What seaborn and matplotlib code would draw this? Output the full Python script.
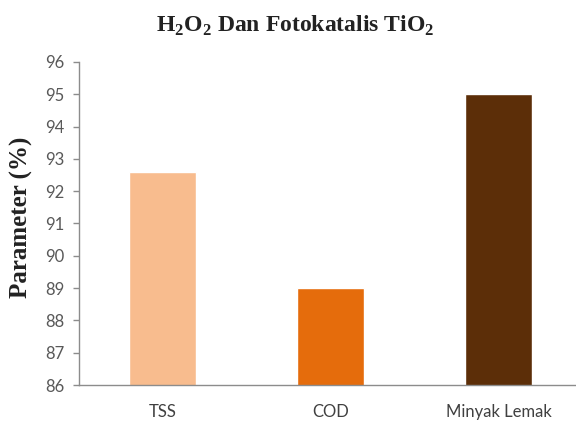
import matplotlib
matplotlib.use("Agg")
import matplotlib.pyplot as plt
import seaborn as sns
import pandas as pd

categories = ["TSS", "COD", "Minyak Lemak"]
values = [92.6, 89.0, 95.0]
bar_colors = ["#F8BC8E", "#E56C0C", "#5C2E08"]
y_ticks = [86, 87, 88, 89, 90, 91, 92, 93, 94, 95, 96]

sns.set_theme(style="white")
plt.rcParams["mathtext.fontset"] = "custom"
plt.rcParams["mathtext.rm"] = "Liberation Serif:bold"
plt.rcParams["mathtext.bf"] = "Liberation Serif:bold"

df = pd.DataFrame({"kategori": categories, "nilai": values})

fig = plt.figure(figsize=(5.76, 4.21), dpi=100)
ax = fig.add_axes([0.137, 0.0855, 0.863, 0.7675])

sns.barplot(data=df, x="kategori", y="nilai", hue="kategori",
            palette=bar_colors, width=0.4, legend=False, ax=ax,
            saturation=1)

ax.set_ylim(86, 96)
ax.set_yticks(y_ticks)
ax.set_xlim(-0.5, 2.46)

axis_grey = "#8C8C8C"
for side in ["top", "right"]:
    ax.spines[side].set_visible(False)
ax.spines["left"].set_color(axis_grey)
ax.spines["bottom"].set_color(axis_grey)
ax.spines["left"].set_linewidth(1.0)
ax.spines["bottom"].set_linewidth(1.0)

ax.tick_params(axis="y", which="major", direction="out", length=4.5,
               width=1.0, color=axis_grey, left=True, pad=6,
               labelsize=12, labelcolor="#595959")
ax.tick_params(axis="x", length=0, pad=14, labelsize=12, labelcolor="#404040")
for lbl in ax.get_yticklabels() + ax.get_xticklabels():
    lbl.set_family("Lato")

ax.set_xlabel("")
ax.set_ylabel("Parameter (%)", fontsize=18, fontweight="bold",
              family="Liberation Serif", color="#222222")
ax.yaxis.set_label_coords(-0.093, 0.52)

fig.text(0.512, 0.924,
         r"H$_{2}$O$_{2}$ Dan Fotokatalis TiO$_{2}$",
         ha="center", va="baseline", fontsize=17, fontweight="bold",
         family="Liberation Serif", color="#222222")

fig.savefig("out.png", dpi=100)
